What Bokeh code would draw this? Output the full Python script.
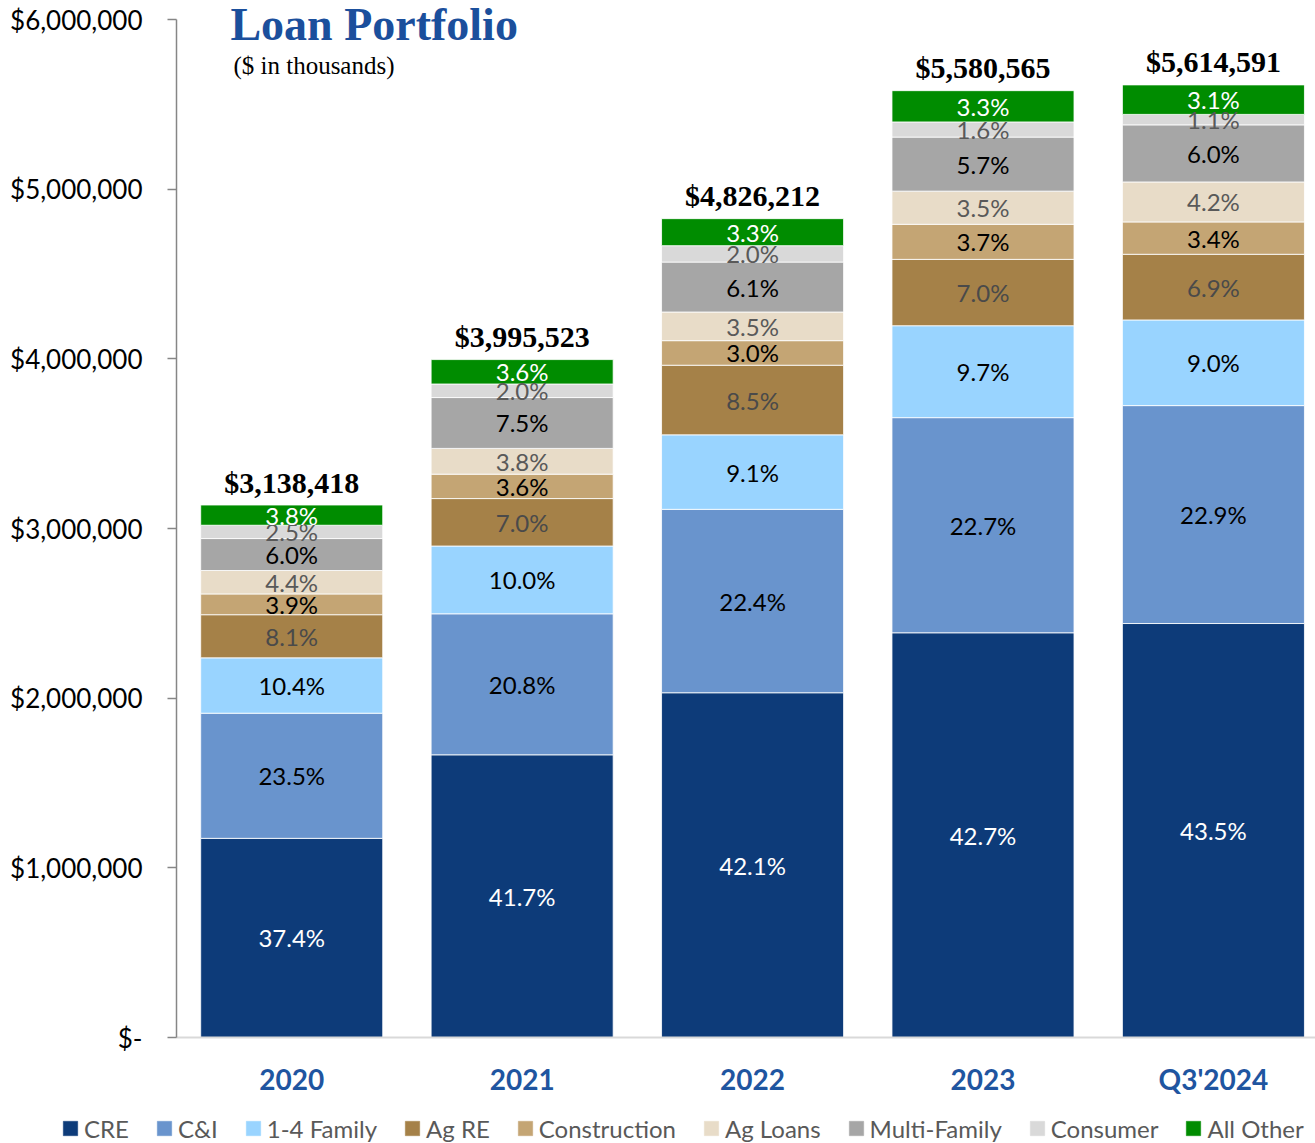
import numpy as np
from bokeh.plotting import figure
from bokeh.layouts import column
from bokeh.models import (ColumnDataSource, Range1d, FixedTicker, Label,
                          NumeralTickFormatter)
from bokeh.core.properties import value
from bokeh.embed import file_html
from bokeh.resources import INLINE

# ---------------- data ----------------
periods = ["2020", "2021", "2022", "2023", "Q3'2024"]
totals = [3138418, 3995523, 4826212, 5580565, 5614591]
series = ["CRE", "C&I", "1-4 Family", "Ag RE", "Construction",
          "Ag Loans", "Multi-Family", "Consumer", "All Other"]
cre          = [37.4, 41.7, 42.1, 42.7, 43.5]
c_and_i      = [23.5, 20.8, 22.4, 22.7, 22.9]
family_1_4   = [10.4, 10.0, 9.1, 9.7, 9.0]
ag_re        = [8.1, 7.0, 8.5, 7.0, 6.9]
construction = [3.9, 3.6, 3.0, 3.7, 3.4]
ag_loans     = [4.4, 3.8, 3.5, 3.5, 4.2]
multi_family = [6.0, 7.5, 6.1, 5.7, 6.0]
consumer     = [2.5, 2.0, 2.0, 1.6, 1.1]
all_other    = [3.8, 3.6, 3.3, 3.3, 3.1]
y_ticks = [0, 1000000, 2000000, 3000000, 4000000, 5000000, 6000000]

pcts = [cre, c_and_i, family_1_4, ag_re, construction,
        ag_loans, multi_family, consumer, all_other]
colors = ["#0D3B79", "#6994CD", "#99D4FF", "#A58148", "#C4A574",
          "#E8DCC8", "#A6A6A6", "#D9D9D9", "#008C00"]
label_colors = ["white", "black", "black", "#4A4A4A", "black",
                "#595959", "black", "#595959", "white"]

# ---------------- derived ----------------
xs = list(range(len(periods)))
sums = [sum(p[i] for p in pcts) for i in xs]
data = {"x": xs}
for name, p in zip(series, pcts):
    data[name] = [totals[i] * p[i] / sums[i] for i in xs]
source = ColumnDataSource(data)

lx, ly, lt, lc = [], [], [], []
base = [0.0] * len(xs)
for name, p, col in zip(series, pcts, label_colors):
    for i in xs:
        h = data[name][i]
        lx.append(i)
        ly.append(base[i] + h / 2)
        lt.append(f"{p[i]:.1f}%")
        lc.append(col)
        base[i] += h
lab_src = ColumnDataSource(dict(x=lx, y=ly, text=lt, color=lc))
tot_src = ColumnDataSource(dict(x=xs, y=totals, text=[f"${t:,}" for t in totals]))

# ---------------- layout constants ----------------
FRAME_H = 1037              # frame height in px (top of figure to baseline)
AXIS_TOP_PX = 19            # where the $6,000,000 tick sits
Y_MAX = y_ticks[-1] * FRAME_H / (FRAME_H - AXIS_TOP_PX)

def y_at(px):
    return (FRAME_H - px) / FRAME_H * Y_MAX

# ---------------- main figure ----------------
p = figure(width=1315, height=1107,
           x_range=Range1d(-0.5, 4.443), y_range=Range1d(0, Y_MAX),
           output_backend="svg", toolbar_location=None,
           min_border_left=176, min_border_right=0,
           min_border_top=0, min_border_bottom=70)
p.frame_align = False
p.outline_line_color = None
p.xgrid.grid_line_color = None
p.ygrid.grid_line_color = None

p.vbar_stack(series, x="x", width=0.79, source=source, color=colors,
             line_color="white", line_width=0.8)

p.text(x="x", y="y", text="text", source=lab_src, text_color="color",
       text_align="center", text_baseline="middle",
       text_font=value("Lato"), text_font_size="24px")

p.text(x="x", y="y", text="text", source=tot_src, text_color="black",
       text_align="center", text_baseline="alphabetic", y_offset=-23,
       text_font=value("Liberation Serif"), text_font_style="bold",
       text_font_size="30px")

# y axis
ya = p.yaxis[0]
ya.bounds = (0, y_ticks[-1])
ya.ticker = FixedTicker(ticks=y_ticks, minor_ticks=[])
ya.formatter = NumeralTickFormatter(format="$0,0")
ya.major_label_overrides = {0: "$-"}
ya.axis_line_color = "#868686"
ya.axis_line_width = 1.5
ya.major_tick_line_color = "#868686"
ya.major_tick_line_width = 1.5
ya.major_tick_out = 9
ya.major_tick_in = 0
ya.minor_tick_line_color = None
ya.major_label_standoff = 25
ya.major_label_text_font = "Lato"
ya.major_label_text_font_size = "26px"
ya.major_label_text_color = "black"

# x axis
xa = p.xaxis[0]
xa.ticker = FixedTicker(ticks=xs, minor_ticks=[])
xa.major_label_overrides = {i: periods[i] for i in xs}
xa.axis_line_color = "#D9D9D9"
xa.axis_line_width = 2
xa.major_tick_line_color = None
xa.minor_tick_line_color = None
xa.major_label_standoff = 18
xa.major_label_text_font = "Lato"
xa.major_label_text_font_style = "bold"
xa.major_label_text_font_size = "28px"
xa.major_label_text_color = "#1F55A0"

# title & subtitle
p.add_layout(Label(x=-0.266, y=y_at(24), text="Loan Portfolio",
                   text_font="Liberation Serif", text_font_style="bold",
                   text_font_size="46px", text_color="#1B4F9C",
                   text_baseline="alphabetic"))
p.add_layout(Label(x=-0.253, y=y_at(65), text="($ in thousands)",
                   text_font="Liberation Serif", text_font_size="25px",
                   text_color="black", text_baseline="alphabetic"))

# ---------------- legend strip ----------------
lg = figure(width=1315, height=36, output_backend="svg", toolbar_location=None,
            x_axis_type=None, y_axis_type=None, min_border=0,
            x_range=Range1d(0, 1), y_range=Range1d(0, 1))
lg.frame_align = False
lg.outline_line_color = None
for s, c in zip(series, colors):
    lg.vbar(x=[-5], top=[0], width=0.1, color=c, line_color=c,
            line_width=0.5, legend_label=s)
leg = lg.legend[0]
leg.location = (61, 0.5)
leg.orientation = "horizontal"
leg.background_fill_alpha = 0
leg.border_line_color = None
leg.padding = 0
leg.margin = 0
leg.glyph_width = 18
leg.glyph_height = 18
leg.label_standoff = 5
leg.spacing = 26
leg.label_height = 22
leg.label_text_font = "Lato"
leg.label_text_font_size = "24px"
leg.label_text_color = "#595959"

open("out.html", "w").write(file_html(column(p, lg), INLINE))
